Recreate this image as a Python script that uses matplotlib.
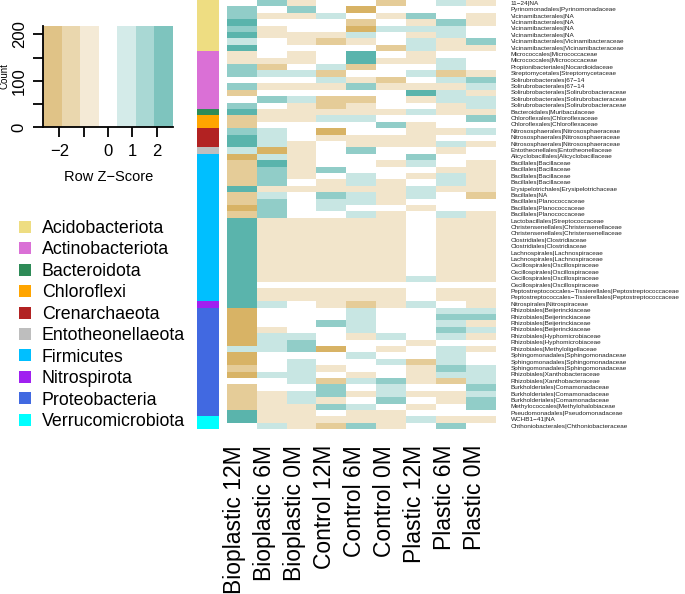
import numpy as np
import matplotlib
matplotlib.use('Agg')
import matplotlib.pyplot as plt
from matplotlib.colors import ListedColormap, BoundaryNorm
from matplotlib.patches import Patch

plt.rcParams['font.family'] = ['Liberation Sans', 'DejaVu Sans']

# ── data ────────────────────────────────────────────────────────────────
samples = ['Bioplastic 12M', 'Bioplastic 6M', 'Bioplastic 0M',
           'Control 12M', 'Control 6M', 'Control 0M',
           'Plastic 12M', 'Plastic 6M', 'Plastic 0M']

families = (
    ['11\u221224|NA', 'Pyrinomonadales|Pyrinomonadaceae']
    + ['Vicinamibacterales|NA'] * 4
    + ['Vicinamibacterales|Vicinamibacteraceae'] * 2
    + ['Micrococcales|Micrococcaceae'] * 2
    + ['Propionibacteriales|Nocardioidaceae', 'Streptomycetales|Streptomycetaceae']
    + ['Solirubrobacterales|67\u221214'] * 2
    + ['Solirubrobacterales|Solirubrobacteraceae'] * 3
    + ['Bacteroidales|Muribaculaceae']
    + ['Chloroflexales|Chloroflexaceae'] * 2
    + ['Nitrososphaerales|Nitrososphaeraceae'] * 3
    + ['Entotheonellales|Entotheonellaceae', 'Alicyclobacillales|Alicyclobacillaceae']
    + ['Bacillales|Bacillaceae'] * 4
    + ['Erysipelotrichales|Erysipelotrichaceae', 'Bacillales|NA']
    + ['Bacillales|Planococcaceae'] * 3
    + ['Lactobacillales|Streptococcaceae']
    + ['Christensenellales|Christensenellaceae'] * 2
    + ['Clostridiales|Clostridiaceae'] * 2
    + ['Lachnospirales|Lachnospiraceae'] * 2
    + ['Oscillospirales|Oscillospiraceae'] * 4
    + ['Peptostreptococcales\u2212Tissierellales|Peptostreptococcaceae'] * 2
    + ['Nitrospirales|Nitrospiraceae']
    + ['Rhizobiales|Beijerinckiaceae'] * 4
    + ['Rhizobiales|Hyphomicrobiaceae'] * 2
    + ['Rhizobiales|Methyloligellaceae']
    + ['Sphingomonadales|Sphingomonadaceae'] * 3
    + ['Rhizobiales|Xanthobacteraceae'] * 2
    + ['Burkholderiales|Comamonadaceae'] * 3
    + ['Methylococcales|Methylohalobiaceae', 'Pseudomonadales|Pseudomonadaceae',
       'WCHB1\u221241|NA', 'Chthoniobacterales|Chthoniobacteraceae']
)

phyla = ['Acidobacteriota', 'Actinobacteriota', 'Bacteroidota', 'Chloroflexi',
         'Crenarchaeota', 'Entotheonellaeota', 'Firmicutes', 'Nitrospirota',
         'Proteobacteria', 'Verrucomicrobiota']
phylum_rows = [8, 9, 1, 2, 3, 1, 23, 1, 17, 2]
phylum_colors = ['#EEDD82', '#DA70D6', '#2E8B57', '#FFA500', '#B22222',
                 '#BEBEBE', '#00BFFF', '#A020F0', '#4169E1', '#00FFFF']

# colour class of every cell (-3 brown ... +3 teal)
z_levels = [
    [0, 2, -1, 0, 0, -2, 0, 1, -1],
    [2, 0, 2, 0, -3, 0, 0, 0, 0],
    [2, -1, -1, 1, 0, -1, 2, 0, -1],
    [3, 0, 0, 0, -2, 0, -1, 2, -1],
    [2, -1, 0, 0, -3, 1, 1, 1, 0],
    [3, -1, -1, -1, 1, 0, -1, 1, 0],
    [1, 0, -1, -2, -1, 0, 1, -1, 2],
    [3, 0, 0, 0, 0, -2, 1, -1, -1],
    [-1, 0, -1, 0, 3, 0, -1, 0, 0],
    [-1, -1, -1, 0, 3, -1, -1, 1, 0],
    [2, -2, 0, 1, -2, 0, 0, 1, 0],
    [2, 1, 1, -2, 0, 0, 1, -2, -1],
    [0, 0, 0, 1, -1, -2, 0, 1, 2],
    [2, -1, -1, -1, 2, -1, -1, -1, 1],
    [-2, 0, 0, 0, 0, 0, 3, 1, -1],
    [0, 2, 1, -2, -2, 0, -1, 1, 1],
    [2, 0, -1, -2, -1, 0, 0, -1, 1],
    [3, -1, -1, -1, -1, -1, 1, -1, -1],
    [-2, -1, -1, 1, 1, 0, 0, 0, 2],
    [-2, 0, 0, 0, 0, 2, -1, 0, 0],
    [2, 1, 0, -3, 0, 0, -1, -1, 1],
    [3, 1, 0, -1, -1, -1, -1, 0, 0],
    [3, 1, -1, 0, -1, -1, -1, 1, -1],
    [1, -3, -1, 0, 2, 0, 0, -1, 0],
    [-3, 1, -1, 0, 0, 0, 2, 0, 0],
    [-2, 3, -1, 0, 0, -1, 1, 0, -1],
    [-2, 2, -1, 2, 0, 0, 0, -1, -1],
    [-2, 2, -1, 0, 1, 0, -1, 1, -1],
    [-2, 2, 0, -1, 1, -1, 0, 1, -1],
    [3, -1, -1, -1, -1, -1, 1, -1, -1],
    [-2, 1, 0, 2, 1, -1, 1, 0, -2],
    [-2, 2, 0, 1, 1, -1, 0, 0, 0],
    [-3, 2, 0, 1, 0, 0, -1, 0, 0],
    [-2, 2, 0, 0, 1, -1, 0, 1, -1],
    [3, -1, -1, -1, -1, -1, 0, -1, -1],
    [3, -1, -1, -1, -1, -1, 0, -1, -1],
    [3, -1, -1, -1, -1, -1, 0, -1, -1],
    [3, -1, -1, -1, -1, -1, 0, -1, -1],
    [3, -1, -1, -1, -1, -1, 0, -1, -1],
    [3, -1, -1, -1, -1, -1, 0, -1, -1],
    [3, -1, -1, -1, -1, -1, 0, -1, -1],
    [3, -1, -1, -1, -1, -1, 0, -1, -1],
    [3, -1, -1, -1, -1, -1, 0, -1, -1],
    [3, -1, -1, -1, -1, -1, 1, -1, -1],
    [3, 0, 0, 0, 0, 0, 0, 0, 0],
    [3, -1, -1, -1, -1, -1, 0, -1, -1],
    [3, -1, -1, -1, -1, -1, 0, -1, -1],
    [3, 1, 0, -1, -2, -1, 1, 0, -1],
    [-3, 0, 0, 0, 1, 0, 0, 1, 1],
    [-3, 0, 0, 0, 1, 0, 0, 2, 2],
    [-3, 0, 0, 2, 1, 0, 0, 1, -1],
    [-3, -1, 0, 0, 1, 0, 0, 2, 1],
    [-3, 1, 1, 0, -1, 1, 0, 1, -1],
    [-3, 1, 2, 0, 0, 0, -1, 0, 0],
    [1, 1, 2, -3, 0, -1, 0, 1, -1],
    [-3, 0, 0, 0, 1, 0, 0, 1, 0],
    [-3, 0, 1, 0, 0, 1, -2, 1, 0],
    [-2, 0, 1, -1, 0, 0, -1, 2, 1],
    [-3, 1, 1, 0, -1, 0, -1, 1, 1],
    [0, 0, 1, -2, 1, 2, -1, -2, 1],
    [-2, 0, 0, 2, 0, 1, 0, 0, 2],
    [-2, -1, 1, 2, -1, 1, -1, -1, 1],
    [-2, -1, 1, -1, 0, 2, 0, -1, 2],
    [-2, -1, -1, 2, 1, 0, -1, 0, 2],
    [3, -1, -1, 0, -1, -1, 0, 0, 0],
    [3, -1, -1, -1, -1, -1, 1, -1, -1],
    [0, 1, -1, -2, 2, -1, 0, 2, 0],
]

palette = ['#D8B365', '#E5CC98', '#F2E5CB', '#FFFFFF', '#C8E6E3', '#91CDC8', '#5AB4AC']

# ── derived ─────────────────────────────────────────────────────────────
zmax = 8 / 3                                  # max row z-score for 9 samples
breaks = np.linspace(-zmax, zmax, len(palette) + 1)
bin_w = breaks[1] - breaks[0]
z = np.array(z_levels) * bin_w
n_rows, n_cols = z.shape
cmap = ListedColormap(palette)
norm = BoundaryNorm(breaks, cmap.N)
row_phylum = np.repeat(np.arange(len(phyla)), phylum_rows)

W, H = 685, 594
fig = plt.figure(figsize=(W / 100, H / 100), dpi=100)

def px_axes(x0, y0, x1, y1):
    return fig.add_axes([x0 / W, 1 - y1 / H, (x1 - x0) / W, (y1 - y0) / H])

# ── heatmap ─────────────────────────────────────────────────────────────
ax = px_axes(226.7, 0, 496, 429.3)
ax.pcolormesh(np.arange(n_cols + 1), np.arange(n_rows + 1), z, cmap=cmap, norm=norm)
ax.set_xlim(0, n_cols); ax.set_ylim(n_rows, 0)
ax.axis('off')
for i, name in enumerate(families):
    ax.text(n_cols + 0.5, i + 0.5, name, fontsize=4.6, ha='left', va='center', color='#222222')
for j, s in enumerate(samples):
    ax.text(j + 0.27, n_rows + 2.45, s, rotation=90, ha='center', va='top',
            fontsize=16.5, clip_on=False)

# ── row side colours ───────────────────────────────────────────────────
sax = px_axes(197.3, 0, 219.3, 429.3)
sax.pcolormesh(np.arange(2), np.arange(n_rows + 1), row_phylum[:, None],
               cmap=ListedColormap(phylum_colors), vmin=-0.5, vmax=len(phyla) - 0.5)
sax.set_ylim(n_rows, 0)
sax.axis('off')

# ── colour key ─────────────────────────────────────────────────────────
kax = px_axes(43.3, 26, 172.7, 127.3)
ytop = 218
kax.bar(breaks[:-1], ytop, width=bin_w, align='edge', color=palette, alpha=0.78, linewidth=0)
kax.set_xlim(-zmax, zmax); kax.set_ylim(0, ytop)
for side in ['top', 'right']:
    kax.spines[side].set_visible(False)
kax.spines['left'].set_linewidth(1.3); kax.spines['bottom'].set_linewidth(1.3)
kax.set_xticks([-2, -1, 0, 1, 2])
kax.set_xticklabels(['\u22122', '', '0', '1', '2'], fontsize=12)
kax.set_yticks([0, 50, 100, 150, 200])
kax.set_yticklabels(['0', '', '100', '', '200'], fontsize=12, rotation=90, va='center')
kax.tick_params(length=7, width=1.3, pad=5)
fig.text(5 / W, 1 - 76 / H, 'Count', rotation=90, fontsize=7, ha='center', va='center')
fig.text(108.3 / W, 1 - 177 / H, 'Row Z\u2212Score', fontsize=10.5, ha='center', va='center')

# ── phylum legend ──────────────────────────────────────────────────────
handles = [Patch(facecolor=c, edgecolor='none') for c in phylum_colors]
fig.legend(handles, phyla, loc='upper left', bbox_to_anchor=(19.3 / W, 1 - 220 / H),
           frameon=False, fontsize=12.8, handlelength=0.66, handleheight=0.66,
           handletextpad=0.6, labelspacing=0.25, borderpad=0, borderaxespad=0)

fig.savefig('out.png', dpi=100)
